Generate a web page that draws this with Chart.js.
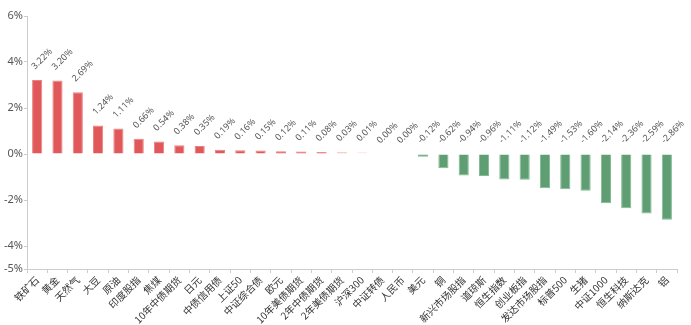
<!DOCTYPE html>
<html>
<head>
<meta charset="utf-8">
<script src="https://cdn.jsdelivr.net/npm/chart.js@4/dist/chart.umd.min.js"></script>
<style>
  html, body { margin: 0; padding: 0; background: #fff; }
  #wrap { width: 691px; height: 325px; }
</style>
</head>
<body>
<div id="wrap"><canvas id="myChart" width="691" height="325"></canvas></div>
<script>
const assetNames = ["铁矿石","黄金","天然气","大豆","原油","印度股指","焦煤","10年中债期货","日元","中债信用债",
  "上证50","中证综合债","欧元","10年美债期货","2年中债期货","2年美债期货","沪深300","中证转债","人民币","美元",
  "铜","新兴市场股指","道琼斯","恒生指数","创业板指","发达市场股指","标普500","生猪","中证1000","恒生科技",
  "纳斯达克","铝"];
const weekChange = [3.22,3.20,2.69,1.24,1.11,0.66,0.54,0.38,0.35,0.19,
  0.16,0.15,0.12,0.11,0.08,0.03,0.01,0.00,0.00,-0.12,
  -0.62,-0.94,-0.96,-1.11,-1.12,-1.49,-1.53,-1.60,-2.14,-2.36,
  -2.59,-2.86];
const yTicks = [-5,-4,-2,0,2,4,6];

// small moves fade out toward white
function fill(v) {
  const a = Math.min(1, Math.abs(v) / 0.08);
  return v >= 0 ? `rgba(224,88,90,${a})` : `rgba(94,158,114,${a})`;
}
function edge(v) {
  const a = Math.min(1, Math.abs(v) / 0.08);
  return v >= 0 ? `rgba(236,128,128,${a})` : `rgba(128,186,146,${a})`;
}

const valueLabels = {
  id: "valueLabels",
  afterDatasetsDraw(chart) {
    const ctx = chart.ctx;
    const meta = chart.getDatasetMeta(0);
    const zero = chart.scales.y.getPixelForValue(0);
    ctx.save();
    ctx.font = "9px 'Noto Sans', sans-serif";
    ctx.fillStyle = "#555";
    ctx.textAlign = "left";
    ctx.textBaseline = "middle";
    meta.data.forEach((bar, i) => {
      const top = Math.min(bar.y, zero);
      ctx.save();
      ctx.translate(bar.x - 4, top - 12);
      ctx.rotate(-Math.PI / 4);
      ctx.fillText(weekChange[i].toFixed(2) + "%", 0, 0);
      ctx.restore();
    });
    ctx.restore();
  }
};

new Chart("myChart", {
  type: "bar",
  data: {
    labels: assetNames,
    datasets: [{
      data: weekChange,
      backgroundColor: weekChange.map(fill),
      borderColor: weekChange.map(edge),
      borderWidth: 1,
      minBarLength: 2,
      barPercentage: 0.5,
      categoryPercentage: 1
    }]
  },
  options: {
    responsive: false,
    animation: false,
    layout: { padding: { top: 16, right: 14, left: 0, bottom: 0 } },
    plugins: { legend: { display: false }, tooltip: { enabled: false } },
    scales: {
      x: {
        offset: true,
        grid: { drawOnChartArea: false, drawTicks: true, tickLength: 4, color: "#ccc", offset: true },
        border: { color: "#ccc" },
        ticks: {
          autoSkip: false, maxRotation: 45, minRotation: 45, padding: 1,
          color: "#333", font: { size: 10, family: "'Noto Sans CJK SC', sans-serif" }
        },
        afterFit(scale) { scale.height = 56; }
      },
      y: {
        min: -5, max: 6,
        grid: { drawOnChartArea: false, drawTicks: true, tickLength: 3, color: "#ccc" },
        border: { color: "#ccc" },
        ticks: {
          padding: 1, color: "#555",
          font: { size: 11, family: "'Noto Sans', sans-serif" },
          callback: v => v + "%"
        },
        afterBuildTicks(scale) { scale.ticks = yTicks.map(v => ({ value: v })); },
        afterFit(scale) { scale.width = 27; }
      }
    }
  },
  plugins: [valueLabels]
});
</script>
</body>
</html>
